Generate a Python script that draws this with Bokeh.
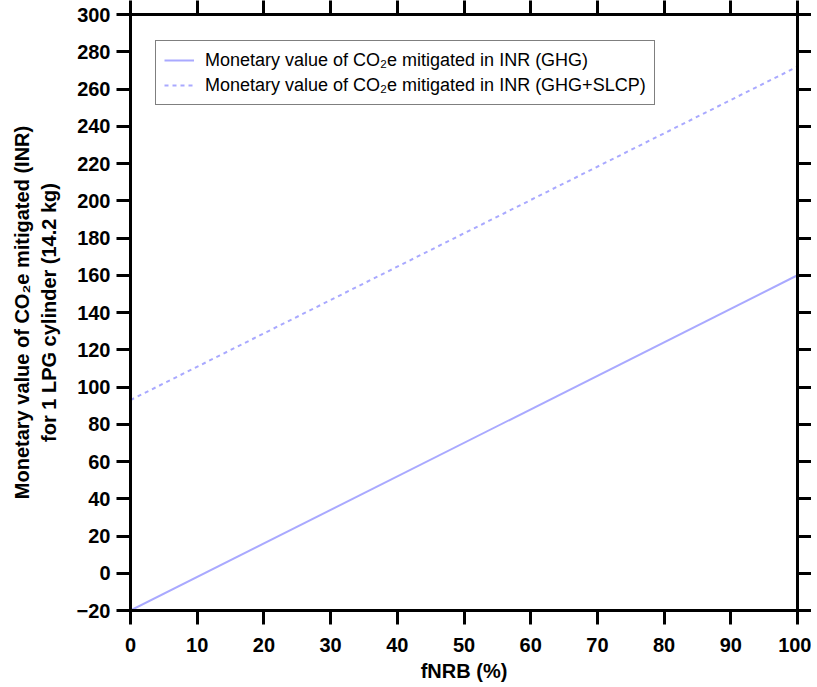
from bokeh.plotting import figure
from bokeh.models import LinearAxis, Legend, LegendItem, Range1d, FixedTicker
from bokeh.embed import file_html
from bokeh.resources import INLINE

# data
fnrb = [0, 100]
ghg = [-20, 160]
ghg_slcp = [93, 272]
x_ticks = [0, 10, 20, 30, 40, 50, 60, 70, 80, 90, 100]
y_ticks = [-20, 0, 20, 40, 60, 80, 100, 120, 140, 160, 180, 200, 220, 240, 260, 280, 300]

FONT = "Liberation Sans"
LINE_COLOR = "#a9a9ff"

p = figure(frame_width=667, frame_height=596, output_backend="svg", toolbar_location=None,
           x_range=Range1d(0, 100), y_range=Range1d(-20, 300),
           min_border_left=130, min_border_top=0, min_border_right=0, min_border_bottom=0,
           x_axis_label="fNRB (%)",
           y_axis_label="Monetary value of CO\u2082e mitigated (INR)\nfor 1 LPG cylinder (14.2 kg)")
p.grid.visible = False
p.outline_line_color = "black"
p.outline_line_width = 3
p.background_fill_color = "white"
p.border_fill_color = "white"

r1 = p.line(fnrb, ghg, line_color=LINE_COLOR, line_width=2)
r2 = p.line(fnrb, ghg_slcp, line_color=LINE_COLOR, line_width=2, line_dash="4 4")

p.xaxis[0].ticker = FixedTicker(ticks=x_ticks)
p.yaxis[0].ticker = FixedTicker(ticks=y_ticks)
for ax in [p.xaxis[0], p.yaxis[0]]:
    ax.axis_line_width = 3
    ax.major_tick_line_width = 3
    ax.major_tick_in = 0
    ax.major_tick_out = 14
    ax.minor_tick_line_color = None
    ax.major_label_text_font = FONT
    ax.major_label_text_font_style = "bold"
    ax.major_label_text_font_size = "20px"
    ax.major_label_text_color = "black"
    ax.axis_label_text_font = FONT
    ax.axis_label_text_font_style = "bold"
    ax.axis_label_text_font_size = "20px"
    ax.axis_label_text_color = "black"
p.xaxis[0].major_label_standoff = 13
p.xaxis[0].axis_label_standoff = 5
p.yaxis[0].major_label_standoff = 6
p.yaxis[0].axis_label_standoff = 14

top = LinearAxis(ticker=FixedTicker(ticks=x_ticks),
                 major_label_overrides={t: "" for t in x_ticks},
                 major_label_standoff=0, axis_line_width=3, major_tick_line_width=3,
                 major_tick_in=0, major_tick_out=14, minor_tick_line_color=None)
right = LinearAxis(ticker=FixedTicker(ticks=y_ticks),
                   major_label_overrides={t: "" for t in y_ticks},
                   major_label_standoff=0, axis_line_width=3, major_tick_line_width=3,
                   major_tick_in=0, major_tick_out=14, minor_tick_line_color=None)
p.add_layout(top, "above")
p.add_layout(right, "right")

legend = Legend(items=[
    LegendItem(label="Monetary value of CO\u2082e mitigated in INR (GHG)", renderers=[r1]),
    LegendItem(label="Monetary value of CO\u2082e mitigated in INR (GHG+SLCP)", renderers=[r2]),
], location=(25, 505))
legend.label_text_font = FONT
legend.label_text_font_size = "18px"
legend.label_text_color = "black"
legend.glyph_width = 30
legend.glyph_height = 22
legend.label_height = 22
legend.label_standoff = 11
legend.spacing = 3
legend.padding = 8
legend.margin = 0
legend.border_line_color = "black"
legend.border_line_width = 1.5
legend.background_fill_color = "white"
legend.background_fill_alpha = 1
p.add_layout(legend)

with open("out.html", "w") as f:
    f.write(file_html(p, INLINE))
